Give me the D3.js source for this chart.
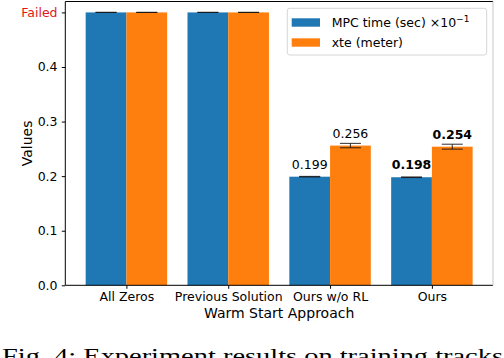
<!DOCTYPE html>
<html><head><meta charset="utf-8">
<script src="https://cdn.jsdelivr.net/npm/d3@7"></script>
<style>html,body{margin:0;padding:0;background:#fff;} svg{display:block;}</style>
</head><body>
<script>
const categories = ["All Zeros", "Previous Solution", "Ours w/o RL", "Ours"];
const mpcTime = [0.5, 0.5, 0.199, 0.198];
const mpcErr = [0, 0, 0.0005, 0.0005];
const xte = [0.5, 0.5, 0.256, 0.254];
const xteErr = [0, 0, 0.004, 0.0045];
const mpcLabels = [null, null, "0.199", "0.198"];
const xteLabels = [null, null, "0.256", "0.254"];
const labelBold = [false, false, false, true];
const yTickValues = [0, 0.1, 0.2, 0.3, 0.4, 0.5];
const yTickLabels = ["0.0", "0.1", "0.2", "0.3", "0.4", "Failed"];
const seriesNames = ["MPC time (sec) ×10", "xte (meter)"];
const colors = ["#1f77b4", "#ff7f0e"];

const W = 504, H = 358;
const L = 65.3, R = 493, T = 1.5, B = 285.3;
const svg = d3.select("body").append("svg").attr("width", W).attr("height", H);
const font = "DejaVu Sans, sans-serif";

const x = d3.scaleLinear().domain([-0.6, categories.length - 0.4]).range([L, R]);
const y = d3.scaleLinear().domain([0, 0.52]).range([B, T]);
const bw = 0.4;

const series = [
  {vals: mpcTime, err: mpcErr, labels: mpcLabels, off: -bw, color: colors[0]},
  {vals: xte, err: xteErr, labels: xteLabels, off: 0, color: colors[1]}
];

series.forEach(s => {
  svg.append("g").selectAll("rect").data(s.vals).join("rect")
    .attr("x", (d, i) => x(i + s.off))
    .attr("width", x(bw) - x(0))
    .attr("y", d => y(d))
    .attr("height", d => y(0) - y(d))
    .attr("fill", s.color);
});

// error bars
series.forEach(s => {
  const g = svg.append("g").attr("stroke", "#111").attr("stroke-opacity", 0.8).attr("stroke-width", 1.1);
  s.vals.forEach((d, i) => {
    const cx = x(i + s.off + bw / 2);
    const y1 = y(d + s.err[i]), y2 = y(d - s.err[i]);
    g.append("line").attr("x1", cx).attr("x2", cx).attr("y1", y1).attr("y2", y2);
    [y1, y2].forEach(yy => g.append("line").attr("x1", cx - 10.5).attr("x2", cx + 10.5).attr("y1", yy).attr("y2", yy));
  });
});

// value labels
series.forEach(s => {
  s.vals.forEach((d, i) => {
    if (!s.labels[i]) return;
    svg.append("text")
      .attr("x", x(i + s.off + bw / 2))
      .attr("y", y(d) - 8)
      .attr("text-anchor", "middle")
      .attr("font-family", font)
      .attr("font-size", 12.5)
      .attr("font-weight", labelBold[i] ? "bold" : "normal")
      .attr("fill", "#000")
      .text(s.labels[i]);
  });
});

// spines
svg.append("line").attr("x1", L).attr("x2", L).attr("y1", T).attr("y2", B).attr("stroke", "#000");
svg.append("line").attr("x1", L).attr("x2", R).attr("y1", B).attr("y2", B).attr("stroke", "#000");
svg.append("line").attr("x1", L).attr("x2", R).attr("y1", T).attr("y2", T).attr("stroke", "#000");
svg.append("line").attr("x1", R).attr("x2", R).attr("y1", T).attr("y2", B).attr("stroke", "#c8c8c8");

// y axis
const yAxis = d3.axisLeft(y).tickValues(yTickValues).tickSize(3.5)
  .tickFormat((d, i) => yTickLabels[i]);
const gy = svg.append("g").attr("transform", `translate(${L},0)`).call(yAxis);
gy.select(".domain").remove();
gy.selectAll("text").attr("font-family", font).attr("font-size", 12.5).attr("dx", "-0.1em")
  .attr("fill", (d, i) => yTickLabels[i] === "Failed" ? "#e01818" : "#000");

// x axis
const xAxis = d3.axisBottom(x).tickValues(d3.range(categories.length)).tickSize(3.5)
  .tickFormat((d, i) => categories[i]);
const gx = svg.append("g").attr("transform", `translate(0,${B})`).call(xAxis);
gx.select(".domain").remove();
gx.selectAll("text").attr("font-family", font).attr("font-size", 12.5).attr("fill", "#000").attr("dy", "0.75em");

// axis titles
svg.append("text").attr("x", (L + R) / 2).attr("y", 318).attr("text-anchor", "middle")
  .attr("font-family", font).attr("font-size", 14).text("Warm Start Approach");
svg.append("text").attr("transform", `translate(32,${(T + B) / 2}) rotate(-90)`).attr("text-anchor", "middle")
  .attr("font-family", font).attr("font-size", 14).text("Values");

// legend
const lg = svg.append("g");
lg.append("rect").attr("x", 287.3).attr("y", 8.3).attr("width", 199.4).attr("height", 46.7).attr("rx", 2.5)
  .attr("fill", "#fff").attr("fill-opacity", 0.8).attr("stroke", "#d6d6d6").attr("stroke-width", 1);
seriesNames.forEach((n, i) => {
  const yy = 18.3 + i * 20;
  lg.append("rect").attr("x", 291.7).attr("y", yy).attr("width", 28.3).attr("height", 8.4).attr("fill", colors[i]);
  const t = lg.append("text").attr("x", 331.7).attr("y", yy + 8.6).attr("font-family", font).attr("font-size", 12.5).text(n);
  if (i === 0) t.append("tspan").attr("dy", -5).attr("font-size", 9).text("−1");
});

// caption
svg.append("text").attr("x", 2).attr("y", 363).attr("font-family", "Liberation Serif, Times New Roman, serif")
  .attr("font-size", 22).attr("textLength", 501).attr("lengthAdjust", "spacingAndGlyphs")
  .text("Fig. 4: Experiment results on training tracks");
</script>
</body></html>
